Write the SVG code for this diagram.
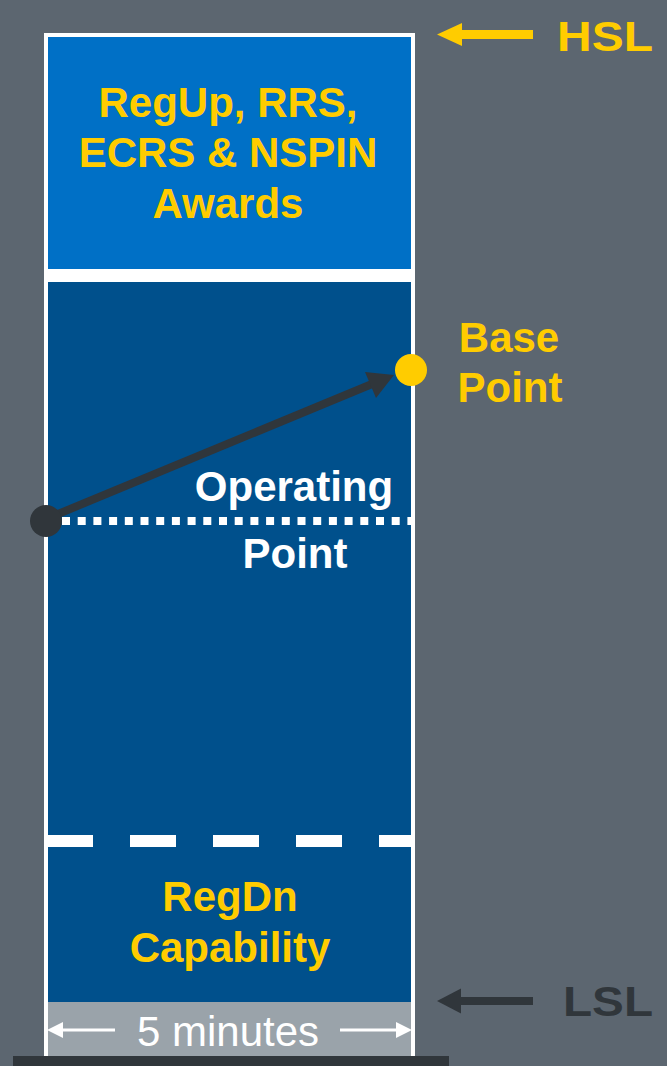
<svg xmlns="http://www.w3.org/2000/svg" width="667" height="1066" viewBox="0 0 667 1066">
  <style>
    text { font-family: "Liberation Sans", Arial, sans-serif; text-anchor: middle; }
    .b { font-weight: bold; font-size: 42px; }
    .y { fill: #ffcc00; }
    .w { fill: #ffffff; }
    .d { fill: #30363b; }
  </style>
  <rect x="0" y="0" width="667" height="1066" fill="#5c6670"/>
  <g id="column">
    <rect x="44" y="33" width="371" height="1023" fill="#ffffff"/>
    <rect x="13" y="1056" width="436" height="10" fill="#30363b"/>
  </g>
  <g id="awards">
    <rect x="48" y="37" width="363" height="232" fill="#0070c6"/>
    <text class="b y" x="228" y="117">RegUp, RRS,</text>
    <text class="b y" x="228" y="167">ECRS &amp; NSPIN</text>
    <text class="b y" x="228" y="218">Awards</text>
  </g>
  <g id="main">
    <rect x="48" y="282" width="363" height="720" fill="#00508c"/>
    <line x1="47" y1="841" x2="411" y2="841" stroke="#ffffff" stroke-width="12" stroke-dasharray="46 37"/>
  </g>
  <g id="regdn">
    <text class="b y" x="230" y="911">RegDn</text>
    <text class="b y" x="230" y="962">Capability</text>
  </g>
  <g id="time">
    <rect x="48" y="1002" width="363" height="54" fill="#9aa3aa"/>
    <text class="w" x="228" y="1046" font-size="43" textLength="182" lengthAdjust="spacingAndGlyphs">5 minutes</text>
  </g>
  <g id="operating-point">
    <line x1="62" y1="521" x2="411" y2="521" stroke="#ffffff" stroke-width="8" stroke-dasharray="8 7.7"/>
    <text class="b w" x="294" y="501">Operating</text>
    <text class="b w" x="295" y="568">Point</text>
  </g>
  <g id="connectors">
    <line x1="58" y1="514" x2="372" y2="384" stroke="#30363b" stroke-width="8"/>
    <polygon points="394,375 365,372 376,398" fill="#30363b"/>
    <line x1="460" y1="34.5" x2="533" y2="34.5" stroke="#ffcc00" stroke-width="9"/>
    <polygon points="437,34.5 462,23 462,46" fill="#ffcc00"/>
    <line x1="460" y1="1001" x2="533" y2="1001" stroke="#30363b" stroke-width="8"/>
    <polygon points="437,1001 461,988.5 461,1013.5" fill="#30363b"/>
    <line x1="60" y1="1030" x2="115" y2="1030" stroke="#ffffff" stroke-width="3"/>
    <polygon points="47,1030 63,1022 63,1038" fill="#ffffff"/>
    <line x1="340" y1="1030" x2="400" y2="1030" stroke="#ffffff" stroke-width="3"/>
    <polygon points="412,1030 396,1022 396,1038" fill="#ffffff"/>
  </g>
  <g id="op-dot">
    <circle cx="46" cy="521" r="16" fill="#30363b"/>
  </g>
  <g id="base-point">
    <circle cx="411" cy="370" r="16" fill="#ffcc00"/>
    <text class="b y" x="509" y="352">Base</text>
    <text class="b y" x="510" y="402">Point</text>
  </g>
  <g id="hsl">
    <text class="b y" x="605" y="51" font-size="52" textLength="96" lengthAdjust="spacingAndGlyphs">HSL</text>
  </g>
  <g id="lsl">
    <text class="b d" x="608" y="1016" font-size="48" textLength="90" lengthAdjust="spacingAndGlyphs">LSL</text>
  </g>
</svg>
